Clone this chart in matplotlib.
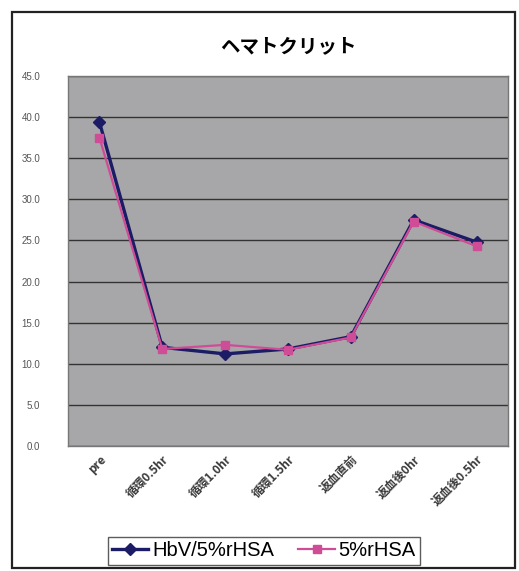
import matplotlib
matplotlib.use("Agg")
import matplotlib.pyplot as plt
from matplotlib.patches import Rectangle

plt.rcParams['font.family'] = ['Noto Sans CJK JP', 'DejaVu Sans']

# data
categories = ["pre", "循環0.5hr", "循環1.0hr", "循環1.5hr", "返血直前", "返血後0hr", "返血後0.5hr"]
hbv = [39.4, 12.0, 11.2, 11.8, 13.3, 27.5, 24.8]
rhsa = [37.5, 11.8, 12.3, 11.7, 13.2, 27.3, 24.3]
yticks = [0, 5, 10, 15, 20, 25, 30, 35, 40, 45]

fig = plt.figure(figsize=(5.19, 5.71), dpi=100)
ax = fig.add_axes([68 / 519, 1 - 446 / 571, 440 / 519, 370 / 571])

# outer frame of the chart
fig.patches.append(Rectangle((12 / 519, 3 / 571), 503 / 519, 556 / 571,
                             transform=fig.transFigure, fill=False,
                             edgecolor='#222222', linewidth=1.6))

ax.set_facecolor('#a7a7a9')
x = list(range(len(categories)))
ax.plot(x, hbv, color='#1c1c66', linewidth=2.4, marker='D', markersize=6,
        label='HbV/5%rHSA', zorder=3)
ax.plot(x, rhsa, color='#cf4c96', linewidth=1.6, marker='s', markersize=6,
        label='5%rHSA', zorder=4)

ax.set_xlim(-0.5, len(categories) - 0.5)
ax.set_ylim(0, 45)
ax.set_yticks(yticks)
ax.set_yticklabels([f"{v:.1f}" for v in yticks], fontsize=7, color='#555555',
                   family=['Liberation Sans', 'DejaVu Sans'])
ax.yaxis.grid(True, color='#333333', linewidth=1.0)
ax.set_axisbelow(True)
ax.tick_params(axis='y', length=0, pad=20)
ax.tick_params(axis='x', length=0, pad=5)
ax.set_xticks(x)
ax.set_xticklabels(categories, rotation=45, ha='right', rotation_mode='anchor',
                   fontsize=8.5, color='#3a3a3a', fontweight='bold')
for s in ax.spines.values():
    s.set_color('#777777')
    s.set_linewidth(1.0)

ax.set_title('ヘマトクリット', fontsize=14, fontweight='bold', pad=17)

leg = fig.legend(loc='center', bbox_to_anchor=(264 / 519, 1 - 551 / 571), ncol=2,
                 frameon=True, fancybox=False, edgecolor='#333333',
                 handlelength=1.8, columnspacing=1.2, borderpad=0.2,
                 handletextpad=0.2, prop={'family': ['Liberation Sans', 'DejaVu Sans'], 'size': 14.5})
leg.get_frame().set_linewidth(1.0)

fig.savefig('out.png', dpi=100, facecolor='white')
